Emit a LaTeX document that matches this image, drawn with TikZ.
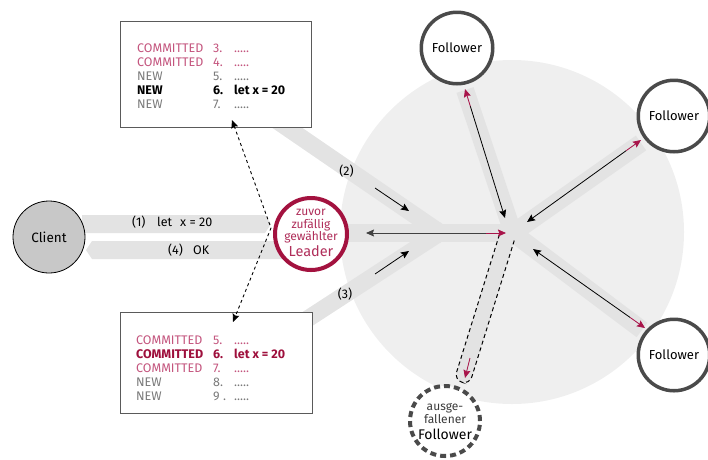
\documentclass[tikz,border=0pt]{standalone}
\usepackage{fontspec}
\setmainfont{Fira Sans}
\usetikzlibrary{arrows.meta}
\definecolor{circgray}{HTML}{EFEFEF}
\definecolor{bandgray}{HTML}{E3E3E3}
\definecolor{crimson}{HTML}{A3123F}
\definecolor{leadertxt}{HTML}{B02E5A}
\definecolor{pinkc}{HTML}{C4557E}
\definecolor{darkred}{HTML}{9E0F3C}
\definecolor{newgray}{HTML}{7A7A7A}
\definecolor{fgray}{HTML}{4A4A4A}
\definecolor{clientfill}{HTML}{C8C8C8}
\definecolor{boxgray}{HTML}{5A5A5A}
\definecolor{redarrow}{HTML}{A8144A}
\tikzset{
  band/.style={line width=18pt, draw=bandgray},
  arr/.style={-{Stealth[length=8pt,width=7pt,inset=1.2pt]}, line width=0.8pt, draw=black},
  redarr/.style={-{Stealth[length=8pt,width=7pt,inset=1.2pt]}, line width=0.8pt, draw=redarrow, fill=redarrow},
  follower/.style={circle, draw=fgray, line width=3.5pt, fill=white, minimum size=71.5pt, inner sep=0pt, font=\fontsize{13}{15}\selectfont},
  logbox/.style={draw=boxgray, line width=1.2pt, fill=white, anchor=north west, inner sep=0pt},
  txt/.style={inner sep=0pt, anchor=base west, font=\fontsize{12.5}{14}\selectfont},
  ctxt/.style={inner sep=0pt, anchor=base, font=\fontsize{12.5}{14}\selectfont},
  boldtxt/.style={txt, font=\fontsize{12.5}{14}\selectfont\bfseries},
}
\begin{document}
\begin{tikzpicture}[x=1pt,y=-1pt]
\useasboundingbox (0,0) rectangle (708,459);
% cluster background
\node[circle, fill=circgray, minimum size=344pt, inner sep=0pt] (cluster) at (512,232) {};
\coordinate (hub) at (513,233);
% client bands
\fill[bandgray] (82,215) -- (265,215) -- (271,224) -- (265,233) -- (82,233) -- cycle;
\fill[bandgray] (92,241) -- (86,250) -- (92,259) -- (290,259) -- (290,241) -- cycle;
% leader bands
\draw[band] (340,233) -- (hub);
\draw[band, line width=17pt] (270,116) -- (445,236);
\draw[band, line width=17pt] (290,330.3) -- (445,229.5);
% follower bands
\draw[band] (hub) -- (465,90);
\draw[band] (hub) -- (641,143);
\draw[band] (hub) -- (642,330);
\fill[bandgray] (hub) circle (10);
% failed follower band
\fill[bandgray, rounded corners=8pt] (499.4,234.6) -- (454.2,379.8) -- (469.4,384.6) -- (514.6,239.4) -- cycle;
\draw[dashed, dash pattern=on 4pt off 3pt, line width=1pt, rounded corners=8pt] (499.4,234.6) -- (454.2,379.8) -- (469.4,384.6) -- (514.6,239.4);
% log boxes
\node[logbox, minimum width=191pt, minimum height=106pt] (boxtop) at (120,21) {};
\node[logbox, minimum width=192pt, minimum height=101pt] (boxbot) at (120,312) {};
% dashed arrow between logs
\coordinate (dtop) at (232,120);
\coordinate (dmid) at (271,228);
\coordinate (dbot) at (233,322);
\draw[dashed, line width=0.9pt, {Stealth[length=8pt,width=7pt,inset=1.2pt]}-{Stealth[length=8pt,width=7pt,inset=1.2pt]}] (dtop) -- (dmid) -- (dbot);
% arrows (2) and (3)
\coordinate (a2s) at (375,188); \coordinate (a2e) at (409,211);
\coordinate (a3s) at (375,274); \coordinate (a3e) at (409,251);
\draw[arr] (a2s) -- (a2e);
\draw[arr] (a3s) -- (a3e);
\node[ctxt] (l2) at (346.5,175) {(2)};
\node[ctxt] (l3) at (345,298.5) {(3)};
% leader <-> hub
\coordinate (lh1) at (366,233); \coordinate (lhr) at (486,233); \coordinate (lh2) at (506,233);
\draw[arr, line width=0.9pt, draw=black!75] (lhr) -- (lh1);
\draw[redarr] (lhr) -- (lh2);
% hub <-> followers
\coordinate (h1) at (505,218); \coordinate (r1) at (470.3,106.2); \coordinate (e1) at (465,89);
\coordinate (h2) at (527,222); \coordinate (r2) at (626.4,150.5); \coordinate (e2) at (641,140);
\coordinate (h3) at (533,249); \coordinate (r3) at (630.3,317.6); \coordinate (e3) at (645,328);
\draw[arr] (r1) -- (h1); \draw[redarr] (r1) -- (e1);
\draw[arr] (r2) -- (h2); \draw[redarr] (r2) -- (e2);
\draw[arr] (r3) -- (h3); \draw[redarr] (r3) -- (e3);
% failed arrow
\coordinate (fxs) at (470,358); \coordinate (fxe) at (465,378);
\draw[redarr] (fxs) -- (fxe);
% circles
\node[circle, draw=black, line width=0.8pt, fill=clientfill, minimum size=72pt, inner sep=0pt, font=\fontsize{13.5}{15}\selectfont] (client) at (49,237) {Client};
\node[circle, draw=crimson, line width=4pt, fill=white, minimum size=72pt, inner sep=0pt] (leader) at (311,234) {};
\node[ctxt, leadertxt, font=\fontsize{12}{13}\selectfont] (ld1) at (311,215) {zuvor};
\node[ctxt, leadertxt, font=\fontsize{12}{13}\selectfont] (ld2) at (311,228) {zufällig};
\node[ctxt, leadertxt, font=\fontsize{12}{13}\selectfont] (ld3) at (311,240.7) {gewählter};
\node[ctxt, leadertxt, font=\fontsize{14.5}{16}\selectfont] (ld4) at (311,256.7) {Leader};
\node[follower] (f1) at (457,48) {Follower};
\node[follower] (f2) at (674,116) {Follower};
\node[follower] (f3) at (674,355) {Follower};
\node[circle, draw=fgray, line width=4pt, dash pattern=on 6pt off 4pt, fill=white, minimum size=70pt, inner sep=0pt] (fx) at (445,421) {};
\node[ctxt, fgray!80!black, font=\fontsize{12}{13}\selectfont] (fx1) at (445,410.7) {ausge-};
\node[ctxt, fgray!80!black, font=\fontsize{12}{13}\selectfont] (fx2) at (445,423) {fallener};
\node[ctxt, font=\fontsize{14}{15}\selectfont] (fx3) at (445,439) {Follower};
% client band labels
\node[txt] (m1a) at (132,226.7) {(1)};
\node[txt] (m1b) at (157,226.7) {let};
\node[txt] (m1c) at (180,226.7) {x = 20};
\node[txt] (m4a) at (168,254) {(4)};
\node[txt] (m4b) at (193,254) {OK};
% top log text
\node[txt, pinkc] (ta1) at (137,52.7) {COMMITTED};
\node[txt, pinkc] (tb1) at (213,52.7) {3.};
\node[txt, pinkc] (tc1) at (234,52.7) {.....};
\node[txt, pinkc] (ta2) at (137,66.7) {COMMITTED};
\node[txt, pinkc] (tb2) at (213,66.7) {4.};
\node[txt, pinkc] (tc2) at (234,66.7) {.....};
\node[txt, newgray] (ta3) at (137,80.5) {NEW};
\node[txt, newgray] (tb3) at (213,80.5) {5.};
\node[txt, newgray] (tc3) at (234,80.5) {.....};
\node[boldtxt] (ta4) at (137,94.2) {NEW};
\node[boldtxt] (tb4) at (213,94.2) {6.};
\node[boldtxt] (tc4) at (234,94.2) {let x = 20};
\node[txt, newgray] (ta5) at (137,108) {NEW};
\node[txt, newgray] (tb5) at (213,108) {7.};
\node[txt, newgray] (tc5) at (234,108) {.....};
% bottom log text
\node[txt, pinkc] (ba1) at (136,344) {COMMITTED};
\node[txt, pinkc] (bb1) at (213,344) {5.};
\node[txt, pinkc] (bc1) at (234,344) {.....};
\node[boldtxt, darkred] (ba2) at (136,358.2) {COMMITTED};
\node[boldtxt, darkred] (bb2) at (213,358.2) {6.};
\node[boldtxt, darkred] (bc2) at (234,358.2) {let x = 20};
\node[txt, pinkc] (ba3) at (136,372) {COMMITTED};
\node[txt, pinkc] (bb3) at (213,372) {7.};
\node[txt, pinkc] (bc3) at (234,372) {.....};
\node[txt, newgray] (ba4) at (136,386) {NEW};
\node[txt, newgray] (bb4) at (213,386) {8.};
\node[txt, newgray] (bc4) at (234,386) {.....};
\node[txt, newgray] (ba5) at (136,400) {NEW};
\node[txt, newgray] (bb5) at (213,400) {9 .};
\node[txt, newgray] (bc5) at (234,400) {.....};
\end{tikzpicture}
\end{document}
